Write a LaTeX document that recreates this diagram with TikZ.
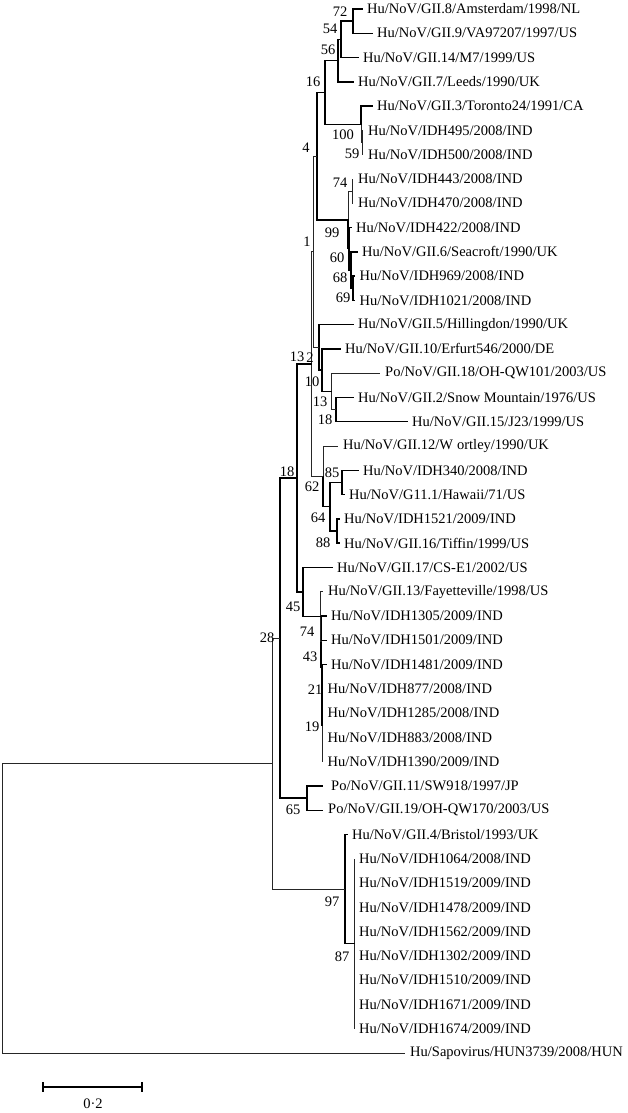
\documentclass[tikz,border=0pt]{standalone}
\usepackage{fontspec}
\setmainfont{Liberation Serif}
\newcommand{\fs}{\fontsize{14.5}{16}\selectfont}
\begin{document}
\begin{tikzpicture}[x=1pt,y=-1pt,
  br/.style={line width=1.4pt,line cap=rect},
  thn/.style={line width=0.9pt,black!85},
  leaf/.style={anchor=west,inner xsep=5pt,inner ysep=0pt,font=\fs},
  bs/.style={font=\fs,inner sep=0pt}]
\useasboundingbox (0,0) rectangle (628,1113);
\newcommand{\lf}[3]{\node[leaf] (l#1) at (#2,{9+(#1-1)*24.28}) {#3};}
% leaves
\lf{1}{362}{Hu/NoV/GII.8/Amsterdam/1998/NL}
\lf{2}{372}{Hu/NoV/GII.9/VA97207/1997/US}
\lf{3}{358}{Hu/NoV/GII.14/M7/1999/US}
\lf{4}{353}{Hu/NoV/GII.7/Leeds/1990/UK}
\lf{5}{372}{Hu/NoV/GII.3/Toronto24/1991/CA}
\lf{6}{363}{Hu/NoV/IDH495/2008/IND}
\lf{7}{363}{Hu/NoV/IDH500/2008/IND}
\lf{8}{353}{Hu/NoV/IDH443/2008/IND}
\lf{9}{353}{Hu/NoV/IDH470/2008/IND}
\lf{10}{351}{Hu/NoV/IDH422/2008/IND}
\lf{11}{357}{Hu/NoV/GII.6/Seacroft/1990/UK}
\lf{12}{354.5}{Hu/NoV/IDH969/2008/IND}
\lf{13}{354.5}{Hu/NoV/IDH1021/2008/IND}
\lf{14}{353}{Hu/NoV/GII.5/Hillingdon/1990/UK}
\lf{15}{340}{Hu/NoV/GII.10/Erfurt546/2000/DE}
\lf{16}{380}{Po/NoV/GII.18/OH-QW101/2003/US}
\lf{17}{353}{Hu/NoV/GII.2/Snow Mountain/1976/US}
\lf{18}{407}{Hu/NoV/GII.15/J23/1999/US}
\lf{19}{338}{Hu/NoV/GII.12/W\kern4pt ortley/1990/UK}
\lf{20}{358}{Hu/NoV/IDH340/2008/IND}
\lf{21}{344}{Hu/NoV/G11.1/Hawaii/71/US}
\lf{22}{339}{Hu/NoV/IDH1521/2009/IND}
\lf{23}{339}{Hu/NoV/GII.16/Tiffin/1999/US}
\lf{24}{332}{Hu/NoV/GII.17/CS-E1/2002/US}
\lf{25}{323}{Hu/NoV/GII.13/Fayetteville/1998/US}
\lf{26}{326}{Hu/NoV/IDH1305/2009/IND}
\lf{27}{326}{Hu/NoV/IDH1501/2009/IND}
\lf{28}{326}{Hu/NoV/IDH1481/2009/IND}
\lf{29}{322.5}{Hu/NoV/IDH877/2008/IND}
\lf{30}{322.5}{Hu/NoV/IDH1285/2008/IND}
\lf{31}{322.5}{Hu/NoV/IDH883/2008/IND}
\lf{32}{322.5}{Hu/NoV/IDH1390/2009/IND}
\node[leaf,inner xsep=9pt] (l33) at (322,{9+32*24.28}) {Po/NoV/GII.11/SW918/1997/JP};
\node[leaf,inner xsep=6pt] (l34) at (322,{9+33*24.28}) {Po/NoV/GII.19/OH-QW170/2003/US};
\lf{35}{347}{Hu/NoV/GII.4/Bristol/1993/UK}
\lf{36}{354}{Hu/NoV/IDH1064/2008/IND}
\lf{37}{354}{Hu/NoV/IDH1519/2009/IND}
\lf{38}{354}{Hu/NoV/IDH1478/2009/IND}
\lf{39}{354}{Hu/NoV/IDH1562/2009/IND}
\lf{40}{354}{Hu/NoV/IDH1302/2009/IND}
\lf{41}{354}{Hu/NoV/IDH1510/2009/IND}
\lf{42}{354}{Hu/NoV/IDH1671/2009/IND}
\lf{43}{354}{Hu/NoV/IDH1674/2009/IND}
\lf{44}{405}{Hu/Sapovirus/HUN3739/2008/HUN}
% internal nodes
\coordinate (nA) at (353,21.14);
\coordinate (nB) at (341,39.35);
\coordinate (nC) at (338,60.6);
\coordinate (nF) at (362,142.54);
\coordinate (nE) at (361,124.33);
\coordinate (nD) at (325,92.46);
\coordinate (nH) at (352,191.1);
\coordinate (nK) at (353,288.22);
\coordinate (nJ) at (351,270.01);
\coordinate (nI) at (349,248.77);
\coordinate (nG) at (348,219.93);
\coordinate (nM) at (317,156.2);
\coordinate (nQ) at (336,409.62);
\coordinate (nR) at (331,391.41);
\coordinate (nS) at (322,370.17);
\coordinate (nT) at (319,347.4);
\coordinate (nN) at (313,251.8);
\coordinate (nX) at (342,482.46);
\coordinate (nY) at (337,531.02);
\coordinate (nZ) at (330,506.74);
\coordinate (nV) at (323,476.39);
\coordinate (nP) at (311,364.1);
\coordinate (nAF) at (322.5,725.26);
\coordinate (nAE) at (322,694.91);
\coordinate (nAD) at (321.5,667.6);
\coordinate (nAC) at (321,641.8);
\coordinate (nAB) at (320.5,616.76);
\coordinate (nAA) at (303,592.1);
\coordinate (nW) at (297,478.1);
\coordinate (nAH) at (307,798.1);
\coordinate (nAG) at (280,638.1);
\coordinate (nAK) at (354,943.78);
\coordinate (nAJ) at (345,889.15);
\coordinate (nAI) at (272,763.6);
\coordinate (nR0) at (2,908.3);
% branches
\draw[br] (nA) |- (l1.west); \draw[br] (nA) |- (l2.west);
\draw[br] (nB) |- (nA); \draw[br] (nB) |- (l3.west);
\draw[br] (nC) |- (nB); \draw[br] (nC) |- (l4.west);
\draw[thn] (nF) |- (l6.west); \draw[thn] (nF) |- (l7.west);
\draw[br] (nE) |- (l5.west); \draw[thn] (nE) |- (nF);
\draw[br] (nD) |- (nC); \draw[br] (nD) |- (nE);
\draw[thn] (nH) |- (l8.west); \draw[thn] (nH) |- (l9.west);
\draw[br] (nK) |- (l12.west); \draw[br] (nK) |- (l13.west);
\draw[br] (nJ) |- (l11.west); \draw[br] (nJ) |- (nK);
\draw[br] (nI) |- (l10.west); \draw[br] (nI) |- (nJ);
\draw[thn] (nG) |- (nH); \draw[br] (nG) |- (nI);
\draw[br] (nM) |- (nD); \draw[br] (nM) |- (nG);
\draw[br] (nQ) |- (l17.west); \draw[br] (nQ) |- (l18.west);
\draw[thn] (nR) |- (l16.west); \draw[thn] (nR) |- (nQ);
\draw[br] (nS) |- (l15.west); \draw[br] (nS) |- (nR);
\draw[br] (nT) |- (l14.west); \draw[br] (nT) |- (nS);
\draw[thn] (nN) |- (nM); \draw[thn] (nN) |- (nT);
\draw[br] (nX) |- (l20.west); \draw[br] (nX) |- (l21.west);
\draw[br] (nY) |- (l22.west); \draw[br] (nY) |- (l23.west);
\draw[br] (nZ) |- (nX); \draw[br] (nZ) |- (nY);
\draw[thn] (nV) |- (l19.west); \draw[br] (nV) |- (nZ);
\draw[thn] (nP) |- (nN); \draw[thn] (nP) |- (nV);
\foreach \k in {29,30,31,32} {\draw[thn] (nAF) |- (l\k.west);}
\draw[br] (nAE) |- (l28.west); \draw[br] (nAE) |- (nAF);
\draw[br] (nAD) |- (l27.west); \draw[br] (nAD) |- (nAE);
\draw[br] (nAC) |- (l26.west); \draw[br] (nAC) |- (nAD);
\draw[thn] (nAB) |- (l25.west); \draw[thn] (nAB) |- (nAC);
\draw[br] (nAA) |- (l24.west); \draw[br] (nAA) |- (nAB);
\draw[br] (nW) |- (nP); \draw[br] (nW) |- (nAA);
\draw[br] (nAH) |- (l33.west); \draw[br] (nAH) |- (l34.west);
\draw[br] (nAG) |- (nW); \draw[br] (nAG) |- (nAH);
\foreach \k in {36,...,43} {\draw[thn] (nAK) |- (l\k.west);}
\draw[br] (nAJ) |- (l35.west); \draw[br] (nAJ) |- (nAK);
\draw[thn] (nAI) |- (nAG); \draw[thn] (nAI) |- (nAJ);
\draw[thn] (nR0) |- (nAI); \draw[thn] (nR0) |- (l44.west);
% bootstrap values
\node[bs] (b1) at (340,12) {72};
\node[bs] (b2) at (330,29) {54};
\node[bs] (b3) at (328,50) {56};
\node[bs] (b4) at (313,82) {16};
\node[bs] (b5) at (343,135) {100};
\node[bs] (b6) at (352,154) {59};
\node[bs] (b7) at (306,148) {4};
\node[bs] (b8) at (340,183) {74};
\node[bs] (b9) at (332,233) {99};
\node[bs] (b10) at (337,258) {60};
\node[bs] (b11) at (340,278) {68};
\node[bs] (b12) at (343,298) {69};
\node[bs] (b13) at (307,242) {1};
\node[bs] (b14) at (297,357) {13};
\node[bs] (b15) at (310,358) {2};
\node[bs] (b16) at (312,382) {10};
\node[bs] (b17) at (320,402) {13};
\node[bs] (b18) at (325,420) {18};
\node[bs] (b19) at (287,472) {18};
\node[bs] (b20) at (332,473) {85};
\node[bs] (b21) at (312,487) {62};
\node[bs] (b22) at (318,518) {64};
\node[bs] (b23) at (323,543) {88};
\node[bs] (b24) at (293,607) {45};
\node[bs] (b25) at (307,632) {74};
\node[bs] (b26) at (310,657) {43};
\node[bs] (b27) at (315,690) {21};
\node[bs] (b28) at (312,727) {19};
\node[bs] (b29) at (267,638) {28};
\node[bs] (b30) at (293,810) {65};
\node[bs] (b31) at (332,902) {97};
\node[bs] (b32) at (342,957) {87};
% scale bar
\coordinate (s1) at (43,1087);
\coordinate (s2) at (142,1087);
\draw[br,line cap=butt] (s1) -- (s2);
\draw[br,line cap=butt] ([yshift=5pt]s1) -- ([yshift=-5pt]s1);
\draw[br,line cap=butt] ([yshift=5pt]s2) -- ([yshift=-5pt]s2);
\node[bs] (sl) at (93,1104) {0·2};
\end{tikzpicture}
\end{document}
